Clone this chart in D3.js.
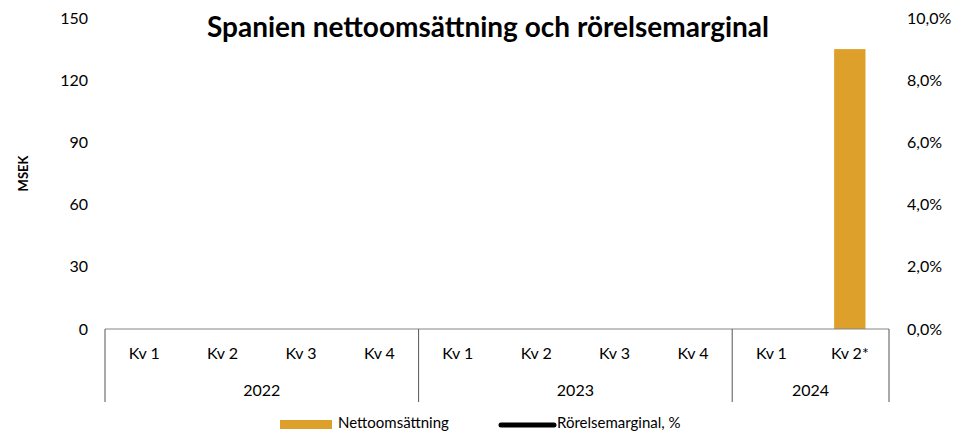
<!DOCTYPE html>
<html>
<head>
<meta charset="utf-8">
<script src="https://cdn.jsdelivr.net/npm/d3@7"></script>
<style>
  body { margin: 0; background: #fff; }
  text { font-family: Lato, "Open Sans", sans-serif; fill: #000; }
</style>
</head>
<body>
<div id="chart"></div>
<script>
// data
const years = ["2022", "2023", "2024"];
const quarters = ["Kv 1", "Kv 2", "Kv 3", "Kv 4", "Kv 1", "Kv 2", "Kv 3", "Kv 4", "Kv 1", "Kv 2*"];
const quarterYear = ["2022", "2022", "2022", "2022", "2023", "2023", "2023", "2023", "2024", "2024"];
const netSales = [null, null, null, null, null, null, null, null, null, 135];
const margin = [null, null, null, null, null, null, null, null, null, null];
const leftTicks = [0, 30, 60, 90, 120, 150];
const rightTicks = [0, 0.02, 0.04, 0.06, 0.08, 0.10];

const width = 953, height = 433;
const plot = {left: 105, right: 889, top: 18, bottom: 329};
const fs = "16px";

const svg = d3.select("#chart").append("svg")
    .attr("width", width)
    .attr("height", height);

const x = d3.scaleBand()
    .domain(d3.range(quarters.length))
    .range([plot.left, plot.right])
    .paddingInner(0.6)
    .paddingOuter(0.3);
// full-step band for labels / separators
const step = (plot.right - plot.left) / quarters.length;
const cx = i => plot.left + step * (i + 0.5);

const y = d3.scaleLinear().domain([0, 150]).range([plot.bottom, plot.top]);
const y2 = d3.scaleLinear().domain([0, 0.10]).range([plot.bottom, plot.top]);

// title
svg.append("text")
    .attr("x", 488).attr("y", 37)
    .attr("text-anchor", "middle")
    .style("font-size", "28px").style("font-weight", "bold")
    .text("Spanien nettoomsättning och rörelsemarginal");

// left axis labels
svg.append("g").selectAll("text")
  .data(leftTicks).join("text")
    .attr("x", 88).attr("y", d => y(d))
    .attr("dy", "0.35em")
    .attr("text-anchor", "end")
    .style("font-size", fs)
    .text(d => d);

// right axis labels
const pct = d3.format(".1f");
svg.append("g").selectAll("text")
  .data(rightTicks).join("text")
    .attr("x", 907).attr("y", d => y2(d))
    .attr("dy", "0.35em")
    .style("font-size", fs)
    .text(d => pct(d * 100).replace(".", ",") + "%");

// y axis title
svg.append("text")
    .attr("transform", `translate(28,${(plot.top + plot.bottom) / 2}) rotate(-90)`)
    .attr("text-anchor", "middle")
    .style("font-size", "13px").style("font-weight", "bold")
    .text("MSEK");

// bars
svg.append("g").selectAll("rect")
  .data(netSales.map((v, i) => ({v, i})).filter(d => d.v != null)).join("rect")
    .attr("x", d => x(d.i))
    .attr("width", x.bandwidth())
    .attr("y", d => y(d.v))
    .attr("height", d => y(0) - y(d.v))
    .attr("fill", "#DDA02A");

// margin line (no values reported)
const line = d3.line()
    .defined(d => d != null)
    .x((d, i) => cx(i))
    .y(d => y2(d));
svg.append("path")
    .datum(margin)
    .attr("fill", "none")
    .attr("stroke", "#000")
    .attr("stroke-width", 4)
    .attr("d", line);

// category axis
svg.append("line")
    .attr("x1", plot.left).attr("x2", plot.right)
    .attr("y1", plot.bottom).attr("y2", plot.bottom)
    .attr("stroke", "#868686").attr("stroke-width", 1.2);

// year separators
const bounds = [0];
years.forEach(yr => bounds.push(bounds[bounds.length - 1] + quarterYear.filter(q => q === yr).length));
svg.append("g").selectAll("line")
  .data(bounds).join("line")
    .attr("x1", d => plot.left + step * d).attr("x2", d => plot.left + step * d)
    .attr("y1", plot.bottom).attr("y2", 402)
    .attr("stroke", "#555").attr("stroke-width", 1);

svg.append("g").selectAll("text")
  .data(quarters).join("text")
    .attr("x", (d, i) => cx(i)).attr("y", 353)
    .attr("dy", "0.35em")
    .attr("text-anchor", "middle")
    .style("font-size", fs)
    .text(d => d);

svg.append("g").selectAll("text")
  .data(years).join("text")
    .attr("x", (d, i) => plot.left + step * (bounds[i] + bounds[i + 1]) / 2)
    .attr("y", 390)
    .attr("dy", "0.35em")
    .attr("text-anchor", "middle")
    .style("font-size", fs)
    .text(d => d);

// legend
const lg = svg.append("g");
lg.append("rect")
    .attr("x", 280).attr("y", 420).attr("width", 52).attr("height", 9)
    .attr("fill", "#DDA02A");
lg.append("text")
    .attr("x", 338).attr("y", 423).attr("dy", "0.35em")
    .style("font-size", "15px")
    .text("Nettoomsättning");
lg.append("line")
    .attr("x1", 501).attr("x2", 554).attr("y1", 425).attr("y2", 425)
    .attr("stroke", "#000").attr("stroke-width", 5).attr("stroke-linecap", "round");
lg.append("text")
    .attr("x", 557).attr("y", 423).attr("dy", "0.35em")
    .style("font-size", "15px")
    .text("Rörelsemarginal, %");
</script>
</body>
</html>
